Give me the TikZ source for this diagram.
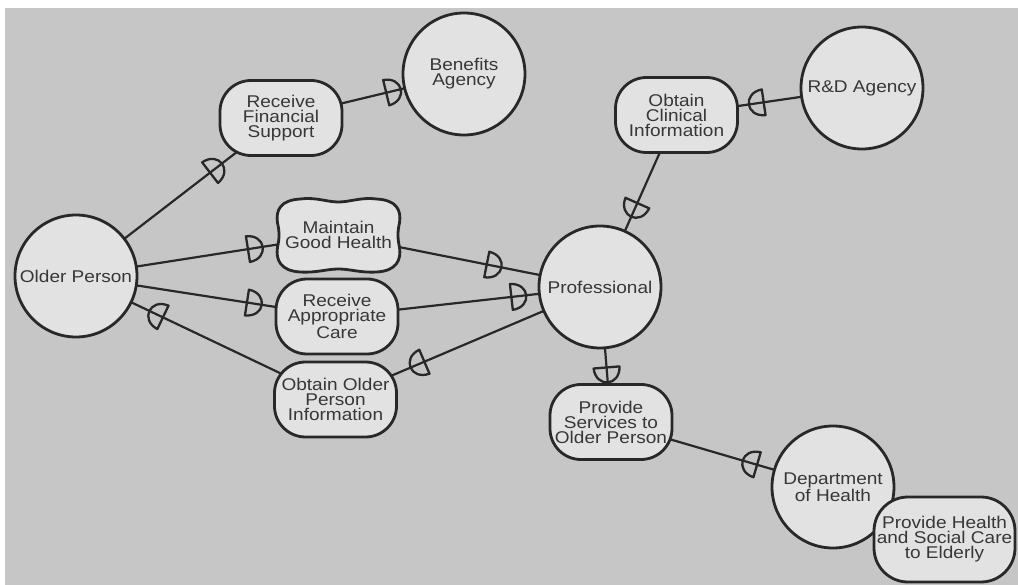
\documentclass[tikz,border=0pt]{standalone}
\usepackage{fontspec}
\setmainfont{Liberation Sans}[FakeStretch=1.12]
\usetikzlibrary{decorations.markings}
\definecolor{canvas}{RGB}{198,198,198}
\definecolor{shapefill}{RGB}{226,226,226}
\definecolor{ink}{RGB}{40,40,40}
\definecolor{textink}{RGB}{55,55,55}
\pgfdeclarelayer{bg}
\pgfdeclarelayer{edges}
\pgfsetlayers{bg,edges,main}
\tikzset{
  lbl/.style={font=\fontsize{17}{15}\selectfont, text=textink, align=center, inner sep=0pt},
  actor/.style={lbl, circle, minimum size=122, draw=ink, line width=2.8pt, fill=shapefill},
  goal/.style={lbl, rectangle, rounded corners=31, minimum width=122, minimum height=75,
               draw=ink, line width=2.8pt, fill=shapefill},
  softbody/.style={draw=ink, line width=2.8pt, fill=shapefill},
  link/.style={draw=ink, line width=2.2pt},
  dstroke/.style={draw=ink, line width=2.3pt, line join=round},
  dfwd/.style={postaction={decorate}, decoration={markings, mark=at position #1 with
      {\draw[dstroke] (0,-13) .. controls (20,-12) and (20,12) .. (0,13) -- cycle;}}},
  dback/.style={postaction={decorate}, decoration={markings, mark=at position #1 with
      {\draw[dstroke] (0,-13) .. controls (-20,-12) and (-20,12) .. (0,13) -- cycle;}}}
}
\begin{document}
\begin{tikzpicture}[x=1pt, y=-1pt]
\useasboundingbox (0,0) rectangle (1018,585);
\begin{pgfonlayer}{bg}
  \fill[white] (0,0) rectangle (1018,585);
  \fill[canvas] (5,8) rectangle (1018,585);
\end{pgfonlayer}

% actors
\node[actor] (op)   at (76,276)  {Older Person};
\node[actor] (ba)   at (464,74)  {Benefits\\Agency};
\node[actor] (rd)   at (862,88)  {R\&D Agency};
\node[actor] (prof) at (600,287) {Professional};
\node[actor] (doh)  at (833,487) {Department\\of Health};

% goals
\node[goal] (rfs)  at (281,118)   {Receive\\Financial\\Support};
\node[goal] (oci)  at (676.5,115) {Obtain\\Clinical\\Information};
\node[goal] (rac)  at (337,316.5) {Receive\\Appropriate\\Care};
\node[goal] (oopi) at (335.5,399.5) {Obtain Older\\Person\\Information};
\node[goal] (psop) at (611,422)   {Provide\\Services to\\Older Person};
\node[goal, minimum width=141, minimum height=85, rounded corners=34] (phsc) at (944.5,539.5)
  {Provide Health\\and Social Care\\to Elderly};

% softgoal with a pillow outline
\begin{scope}[shift={(338.5,235)}]
  \path[softbody]
    (-38,-36) .. controls (-22,-38) and (-12,-33) .. (0,-33)
              .. controls (12,-33) and (22,-38) .. (38,-36)
              .. controls (58,-35) and (63,-25) .. (61,-12)
              .. controls (59,-4) and (59,4) .. (61,12)
              .. controls (63,25) and (58,36) .. (38,37)
              .. controls (22,38) and (12,34) .. (0,34)
              .. controls (-12,34) and (-22,38) .. (-38,37)
              .. controls (-58,36) and (-63,25) .. (-61,12)
              .. controls (-59,4) and (-59,-4) .. (-61,-12)
              .. controls (-63,-25) and (-58,-35) .. (-38,-36) -- cycle;
\end{scope}
\node[lbl] (mgh) at (338.5,235) {Maintain\\Good Health};

% dependency links
\begin{pgfonlayer}{edges}
  \draw[link, dfwd=0.654]  (op.center)   -- (rfs.center);
  \draw[link, dfwd=0.575]  (rfs.center)  -- (ba.center);
  \draw[link, dfwd=0.655]  (op.center)   -- (mgh.center);
  \draw[link, dfwd=0.567]  (mgh.center)  -- (prof.center);
  \draw[link, dfwd=0.655]  (op.center)   -- (rac.center);
  \draw[link, dfwd=0.663]  (rac.center)  -- (prof.center);
  \draw[link, dback=0.335] (op.center)   -- (oopi.center);
  \draw[link, dback=0.336] (oopi.center) -- (prof.center);
  \draw[link, dback=0.488] (prof.center) -- (oci.center);
  \draw[link, dback=0.47]  (oci.center)  -- (rd.center);
  \draw[link, dfwd=0.596]  (prof.center) -- (psop.center);
  \draw[link, dback=0.658] (psop.center) -- (doh.center);
\end{pgfonlayer}
\end{tikzpicture}
\end{document}
